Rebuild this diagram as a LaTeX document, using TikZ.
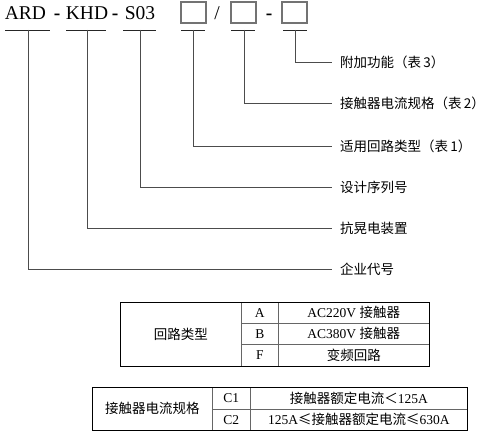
\documentclass[tikz,border=0pt]{standalone}
\usepackage{fontspec}
\setmainfont{Liberation Serif}
\newfontfamily\cjk{Noto Sans CJK SC}
\usetikzlibrary{positioning}
\tikzset{
    code part/.style={font=\fontsize{19.5}{22}\selectfont, inner sep=0pt, anchor=base},
    code dash/.style={code part, font=\fontsize{19.5}{22}\selectfont\bfseries},
    code box/.style={
        draw=black!55,
        line width=1.1pt,
        minimum width=25pt,
        minimum height=21pt,
        inner sep=0pt
    },
    code rule/.style={line width=0.8pt, draw=black!85},
    leader/.style={line width=0.8pt, draw=black!70},
    leader label/.style={
        anchor=west,
        inner xsep=8pt,
        inner ysep=0pt,
        font=\fontsize{13.5}{16}\selectfont\cjk
    },
    tab cell/.style={
        draw=black!60,
        line width=0.6pt,
        anchor=north west,
        inner sep=0pt,
        align=center,
        font=\fontsize{13.5}{16}\selectfont
    },
    tab frame/.style={draw=black, line width=0.9pt}
}

\begin{document}
\begin{tikzpicture}[x=1pt, y=-1pt]
\useasboundingbox (0,0) rectangle (484,438);

% Model code
\node[code part] (cA) at (25.5,20) {ARD};
\node[code dash] (d1) at (57,20) {-};
\node[code part] (cK) at (87,20) {KHD};
\node[code dash] (d2) at (115,20) {-};
\node[code part] (cS) at (140,20) {S03};
\node[code box] (b1) at (193.5,12.5) {};
\node[code part] (sl) at (217,20) {/};
\node[code box] (b2) at (243.5,12.5) {};
\node[code dash] (d3) at (269,20) {-};
\node[code box] (b3) at (294.5,12.5) {};

% Underlines
\draw[code rule] (5,30) -- (50,30);
\draw[code rule] (66,30) -- (106,30);
\draw[code rule] (123,30) -- (156,30);
\draw[code rule] (181,30) -- (205,30);
\draw[code rule] (231,30) -- (255,30);
\draw[code rule] (283,30) -- (307,30);
\coordinate (uA) at (28,30);
\coordinate (uK) at (87,30);
\coordinate (uS) at (140,30);
\coordinate (u1) at (193,30);
\coordinate (u2) at (244,30);
\coordinate (u3) at (295,30);

% Labels
\node[leader label] (l3) at (332,62) {附加功能（表\,3）};
\node[leader label] (l2) at (332,103) {接触器电流规格（表\,2）};
\node[leader label] (l1) at (332,146) {适用回路类型（表\,1）};
\node[leader label] (lS) at (332,187) {设计序列号};
\node[leader label] (lK) at (332,228) {抗晃电装置};
\node[leader label] (lA) at (332,269) {企业代号};
\draw[leader] (u3) |- (l3.west);
\draw[leader] (u2) |- (l2.west);
\draw[leader] (u1) |- (l1.west);
\draw[leader] (uS) |- (lS.west);
\draw[leader] (uK) |- (lK.west);
\draw[leader] (uA) |- (lA.west);

% Table 1: circuit type
\node[tab cell, minimum width=121pt, minimum height=64pt] (t1h) at (120,302) {\cjk 回路类型};
\node[tab cell, minimum width=37pt, minimum height=21pt] (t1k1) at (241,302) {A};
\node[tab cell, minimum width=37pt, minimum height=21pt] (t1k2) at (241,323) {B};
\node[tab cell, minimum width=37pt, minimum height=22pt] (t1k3) at (241,344) {F};
\node[tab cell, minimum width=151pt, minimum height=21pt] (t1v1) at (278,302) {AC220V {\cjk 接触器}};
\node[tab cell, minimum width=151pt, minimum height=21pt] (t1v2) at (278,323) {AC380V {\cjk 接触器}};
\node[tab cell, minimum width=151pt, minimum height=22pt] (t1v3) at (278,344) {\cjk 变频回路};
\draw[tab frame] (t1h.north west) rectangle (t1v3.south east);

% Table 2: contactor current
\node[tab cell, minimum width=120pt, minimum height=43pt] (t2h) at (92,387) {\cjk 接触器电流规格};
\node[tab cell, minimum width=38pt, minimum height=22pt] (t2k1) at (212,387) {C1};
\node[tab cell, minimum width=38pt, minimum height=21pt] (t2k2) at (212,409) {C2};
\node[tab cell, minimum width=217pt, minimum height=22pt] (t2v1) at (250,387) {{\cjk 接触器额定电流＜}125A};
\node[tab cell, minimum width=217pt, minimum height=21pt] (t2v2) at (250,409) {125A{\cjk ≤接触器额定电流≤}630A};
\draw[tab frame] (t2h.north west) rectangle (t2v2.south east);
\end{tikzpicture}
\end{document}
